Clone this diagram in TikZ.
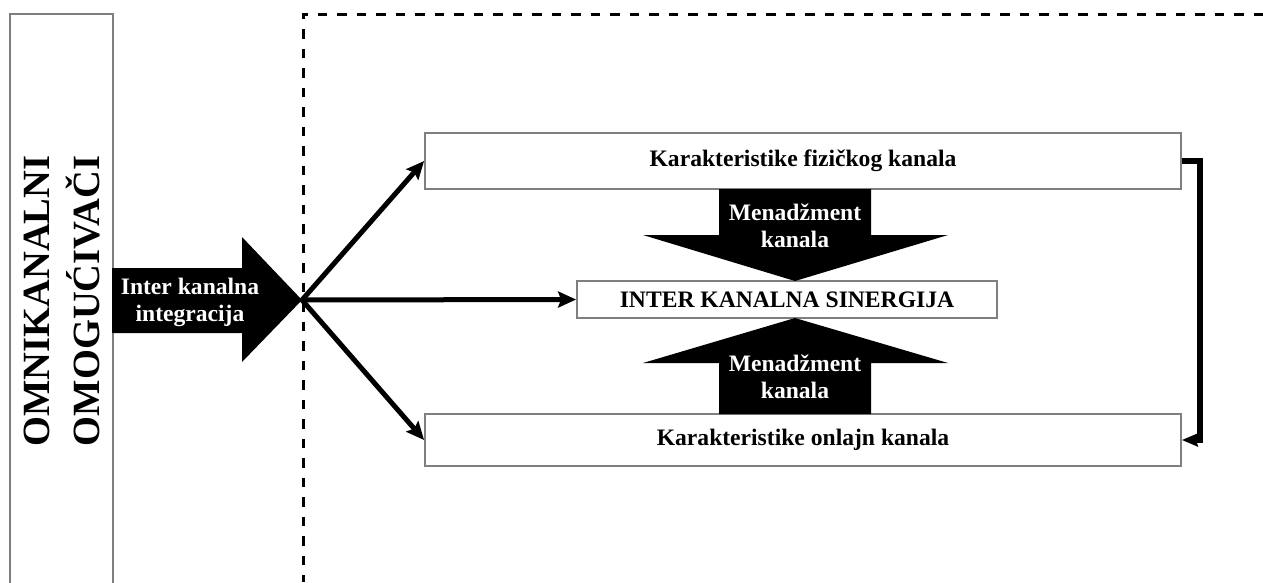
\documentclass[tikz,border=0pt]{standalone}
\usepackage{fontspec}
\setmainfont{Liberation Serif}
\usetikzlibrary{arrows.meta}
\definecolor{framegray}{HTML}{7F7F7F}
\begin{document}
\begin{tikzpicture}[x=1pt,y=-1pt,
  every node/.style={font=\fontsize{23.6}{27}\selectfont\bfseries, inner sep=0pt},
  frame/.style={draw=framegray, line width=1.8pt, fill=white},
  bigtext/.style={font=\fontsize{38.5}{50}\selectfont\bfseries, align=center, rotate=90},
  flow/.style={line width=5pt, -{Stealth[length=18pt,width=16pt,inset=3pt]}},
  loopback/.style={line width=5.5pt, -{Stealth[length=16pt,width=13pt,inset=2pt]}},
  blockarrow/.style={fill=black, draw=none},
  guide/.style={line width=3pt, dash pattern=on 9.5pt off 10pt}
]
\clip (0,0) rectangle (1263,582);
\fill[white] (0,0) rectangle (1263,582);

% left column
\node[frame, anchor=north west, minimum width=103pt, minimum height=620pt] (omni) at (9,13) {};
\node[bigtext] (omnilabel) at (62,301) {OMNIKANALNI\\OMOGUĆIVAČI};

% dashed guide lines
\coordinate (gcorner) at (303,14);
\coordinate (gright) at (1263,14);
\coordinate (gbottom) at (303,582);
\draw[guide] (gright) -- (gcorner) -- (gbottom);

% integration arrow
\fill[blockarrow] (112,268) -- (242,268) -- (242,237) -- (302,300) -- (242,362) -- (242,333) -- (112,333) -- cycle;
\node[text=white, align=center] (integr) at (190,302) {Inter kanalna\\integracija};
\coordinate (hub) at (302,300);

% channel boxes
\node[frame, minimum width=756pt, minimum height=56pt] (fiz) at (803,161) {Karakteristike fizičkog kanala};
\node[frame, minimum width=420pt, minimum height=37pt] (sin) at (787,299.5) {INTER KANALNA SINERGIJA};
\node[frame, minimum width=756pt, minimum height=52pt] (onl) at (803,440) {Karakteristike onlajn kanala};

% management arrows
\fill[blockarrow] (719,189) -- (871,189) -- (871,235) -- (948,235) -- (795,281) -- (643,235) -- (719,235) -- cycle;
\node[text=white, align=center] (mtop) at (795,226) {Menadžment\\kanala};
\fill[blockarrow] (719,414) -- (871,414) -- (871,363) -- (948,363) -- (795,318) -- (643,363) -- (719,363) -- cycle;
\node[text=white, align=center] (mbot) at (795,377) {Menadžment\\kanala};

% connectors
\draw[flow] (hub) -- (fiz.west);
\draw[flow] (hub) -- (sin.west);
\draw[flow] (hub) -- (onl.west);
\draw[loopback] (fiz.east) -- ++(18,0) |- (onl.east);
\end{tikzpicture}
\end{document}
